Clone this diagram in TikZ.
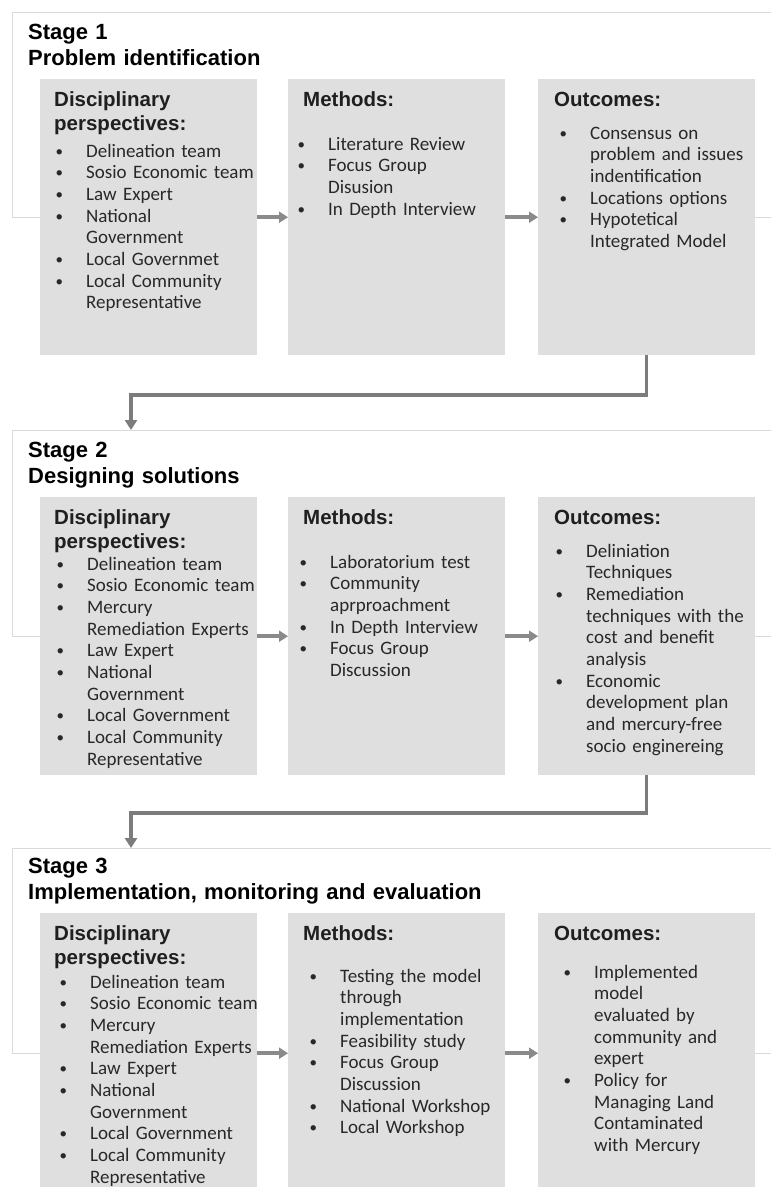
\documentclass[tikz,border=0pt]{standalone}
\usepackage{fontspec}
\setmainfont{Carlito}
\newfontfamily\arialfont{Liberation Sans}
\usepackage{tikz}
\usetikzlibrary{arrows.meta}

\definecolor{boxgray}{RGB}{223,223,223}
\definecolor{framegray}{RGB}{218,218,218}
\definecolor{arrowgray}{RGB}{138,138,138}
\definecolor{txtgray}{RGB}{40,40,40}

\newcommand{\bul}{\makebox[33pt][l]{\hspace{2.5pt}\raisebox{1pt}{\fontsize{15}{15}\selectfont\textbullet}}}
\newcommand{\cnt}{\hspace*{33pt}}

\begin{document}
\begin{tikzpicture}[x=1pt,y=-1pt]
          \tikzstyle{stageframe} = [draw=framegray, line width=1.2pt, minimum width=790pt, anchor=north west, inner sep=0pt]
          \tikzstyle{panel} = [fill=boxgray, minimum width=217pt, anchor=north west, inner sep=0pt]
          \tikzstyle{title} = [anchor=base west, inner sep=0pt, align=left, text width=500pt, font=\arialfont\bfseries\fontsize{22}{26}\selectfont]
          \tikzstyle{head} = [anchor=base west, inner sep=0pt, align=left, text width=200pt, text=black!88, font=\arialfont\bfseries\fontsize{20.5}{24}\selectfont]
          \tikzstyle{items} = [anchor=base west, inner sep=0pt, align=left, text width=205pt, text=txtgray, font=\fontsize{19}{21.7}\selectfont]
          \tikzstyle{flow} = [draw=arrowgray, line width=3.5pt, -{Triangle[length=9pt,width=11pt]}]
          \tikzstyle{link} = [draw=arrowgray!90!black, line width=3.5pt, -{Triangle[length=10pt,width=12pt]}]
        \useasboundingbox (0,0) rectangle (771,1187);
        \fill[white] (0,0) rectangle (771,1187);
        % stage frames
        \node[stageframe, minimum height=205pt] (s1) at (12,12) {};
        \node[stageframe, minimum height=206pt] (s2) at (12,430) {};
        \node[stageframe, minimum height=205pt] (s3) at (12,848) {};
        \node[title] (t1) at ([xshift=16pt,yshift=-27pt]s1.north west) {Stage 1\\Problem identification};
        \node[title] (t2) at ([xshift=16pt,yshift=-27pt]s2.north west) {Stage 2\\Designing solutions};
        \node[title] (t3) at ([xshift=16pt,yshift=-25pt]s3.north west) {Stage 3\\Implementation, monitoring and evaluation};
        % stage 1
        \node[panel, minimum height=276pt] (d1) at (40,79) {};
        \node[panel, minimum height=276pt] (m1) at (288,79) {};
        \node[panel, minimum height=276pt] (o1) at (538,79) {};
        \node[head] (hd1) at ([xshift=14pt,yshift=-27pt]d1.north west) {Disciplinary\\perspectives:};
        \node[head] (hm1) at ([xshift=15pt,yshift=-27pt]m1.north west) {Methods:};
        \node[head] (ho1) at ([xshift=16pt,yshift=-27pt]o1.north west) {Outcomes:};
        \node[items] (ld1) at ([xshift=13pt,yshift=-78pt]d1.north west) {\bul Delineation team\\ \bul Sosio Economic team\\ \bul Law Expert\\ \bul National\\ \cnt Government\\ \bul Local Governmet\\ \bul Local Community\\ \cnt Representative};
        \node[items] (lm1) at ([xshift=7pt,yshift=-71pt]m1.north west) {\bul Literature Review\\ \bul Focus Group\\ \cnt Disusion\\ \bul In Depth Interview};
        \node[items] (lo1) at ([xshift=19pt,yshift=-60pt]o1.north west) {\bul Consensus on\\ \cnt problem and issues\\ \cnt indentification\\ \bul Locations options\\ \bul Hypotetical\\ \cnt Integrated Model};
        \draw[flow] (d1) -- (m1);
        \draw[flow] (m1) -- (o1);
        % stage 2
        \node[panel, minimum height=278pt] (d2) at (40,497) {};
        \node[panel, minimum height=278pt] (m2) at (288,497) {};
        \node[panel, minimum height=278pt] (o2) at (538,497) {};
        \node[head] (hd2) at ([xshift=14pt,yshift=-27pt]d2.north west) {Disciplinary\\perspectives:};
        \node[head] (hm2) at ([xshift=15pt,yshift=-27pt]m2.north west) {Methods:};
        \node[head] (ho2) at ([xshift=16pt,yshift=-27pt]o2.north west) {Outcomes:};
        \node[items] (ld2) at ([xshift=14pt,yshift=-73pt]d2.north west) {\bul Delineation team\\ \bul Sosio Economic team\\ \bul Mercury\\ \cnt Remediation Experts\\ \bul Law Expert\\ \bul National\\ \cnt Government\\ \bul Local Government\\ \bul Local Community\\ \cnt Representative};
        \node[items] (lm2) at ([xshift=9pt,yshift=-71pt]m2.north west) {\bul Laboratorium test\\ \bul Community\\ \cnt aprproachment\\ \bul In Depth Interview\\ \bul Focus Group\\ \cnt Discussion};
        \node[items] (lo2) at ([xshift=15pt,yshift=-60pt]o2.north west) {\bul Deliniation\\ \cnt Techniques\\ \bul Remediation\\ \cnt techniques with the\\ \cnt cost and benefit\\ \cnt analysis\\ \bul Economic\\ \cnt development plan\\ \cnt and mercury-free\\ \cnt socio enginereing};
        \draw[flow] (d2) -- (m2);
        \draw[flow] (m2) -- (o2);
        % stage 3
        \node[panel, minimum height=280pt] (d3) at (40,913) {};
        \node[panel, minimum height=280pt] (m3) at (288,913) {};
        \node[panel, minimum height=280pt] (o3) at (538,913) {};
        \node[head] (hd3) at ([xshift=14pt,yshift=-27pt]d3.north west) {Disciplinary\\perspectives:};
        \node[head] (hm3) at ([xshift=15pt,yshift=-27pt]m3.north west) {Methods:};
        \node[head] (ho3) at ([xshift=16pt,yshift=-27pt]o3.north west) {Outcomes:};
        \node[items] (ld3) at ([xshift=17pt,yshift=-75pt]d3.north west) {\bul Delineation team\\ \bul Sosio Economic team\\ \bul Mercury\\ \cnt Remediation Experts\\ \bul Law Expert\\ \bul National\\ \cnt Government\\ \bul Local Government\\ \bul Local Community\\ \cnt Representative};
        \node[items] (lm3) at ([xshift=19pt,yshift=-69pt]m3.north west) {\bul Testing the model\\ \cnt through\\ \cnt implementation\\ \bul Feasibility study\\ \bul Focus Group\\ \cnt Discussion\\ \bul National Workshop\\ \bul Local Workshop};
        \node[items] (lo3) at ([xshift=23pt,yshift=-65pt]o3.north west) {\bul Implemented\\ \cnt model\\ \cnt evaluated by\\ \cnt community and\\ \cnt expert\\ \bul Policy for\\ \cnt Managing Land\\ \cnt Contaminated\\ \cnt with Mercury};
        \draw[flow] (d3) -- (m3);
        \draw[flow] (m3) -- (o3);
        % links between stages
        \coordinate (k1) at (131,395);
        \coordinate (k2) at (131,813);
        \draw[link] (o1.south) |- (k1) -- (k1 |- s2.north);
        \draw[link] (o2.south) |- (k2) -- (k2 |- s3.north);
      \end{tikzpicture}
\end{document}
